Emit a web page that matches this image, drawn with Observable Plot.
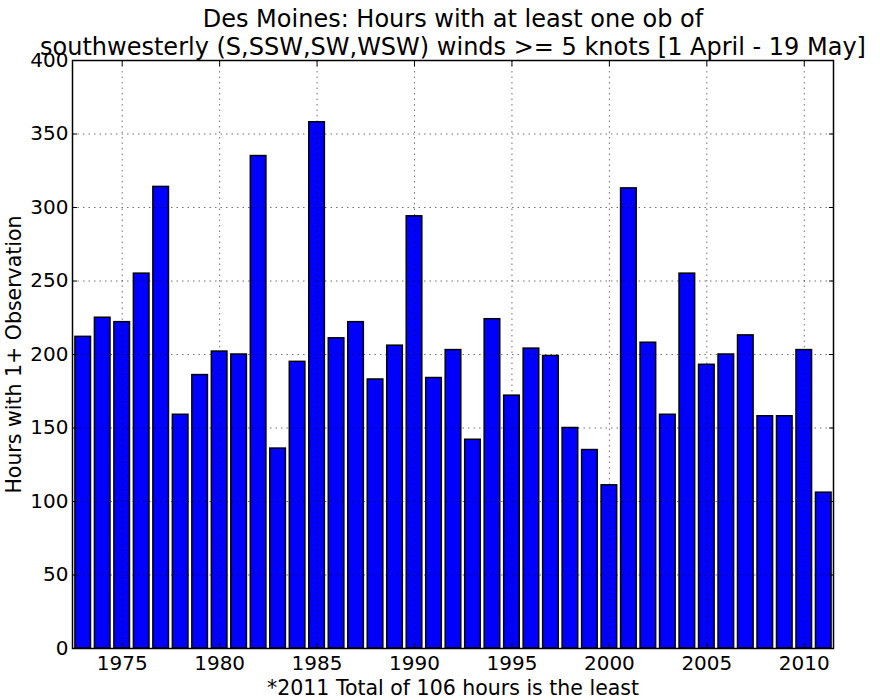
<!DOCTYPE html>
<html>
<head>
<meta charset="utf-8">
<script src="https://cdn.jsdelivr.net/npm/d3@7"></script>
<script src="https://cdn.jsdelivr.net/npm/@observablehq/plot@0.6"></script>
<style>
  html, body { margin: 0; padding: 0; background: #fff; }
  #chart svg { display: block; }
</style>
</head>
<body>
<div id="chart"></div>
<script>
const years = [1973,1974,1975,1976,1977,1978,1979,1980,1981,1982,1983,1984,1985,1986,1987,1988,1989,1990,1991,1992,1993,1994,1995,1996,1997,1998,1999,2000,2001,2002,2003,2004,2005,2006,2007,2008,2009,2010,2011];
const hours = [212,225,222,255,314,159,186,202,200,335,136,195,358,211,222,183,206,294,184,203,142,224,172,204,199,150,135,111,313,208,159,255,193,200,213,158,158,203,106];
const xTicks = [1975,1980,1985,1990,1995,2000,2005,2010];
const yTicks = [0,50,100,150,200,250,300,350,400];
const titleText = "Des Moines: Hours with at least one ob of\nsouthwesterly (S,SSW,SW,WSW) winds >= 5 knots [1 April - 19 May]";
const yLabel = "Hours with 1+ Observation";
const caption = "*2011 Total of 106 hours is the least";

const data = years.map((y, i) => ({year: y, value: hours[i]}));
const barHalf = 0.4;

const chart = Plot.plot({
  width: 880,
  height: 700,
  marginLeft: 72,
  marginRight: 47,
  marginTop: 60,
  marginBottom: 52,
  style: {fontFamily: "DejaVu Sans", fontSize: "20px", color: "#000", background: "#fff"},
  x: {type: "linear", domain: [1972.45, 2011.5]},
  y: {domain: [0, 400]},
  marks: [
    Plot.rectY(data, {x1: d => d.year - barHalf, x2: d => d.year + barHalf, y: "value", fill: "#0000ff", stroke: "#000", strokeWidth: 1.5}),
    Plot.gridX(xTicks, {stroke: "#000", strokeOpacity: 0.55, strokeDasharray: "1.5,4"}),
    Plot.gridY(yTicks.slice(1, -1), {stroke: "#000", strokeOpacity: 0.55, strokeDasharray: "1.5,4"}),
    Plot.axisX(xTicks, {anchor: "bottom", tickSize: 0, tickPadding: 7, tickFormat: d => String(d), fontSize: 20, label: null}),
    Plot.axisX(xTicks, {anchor: "bottom", tickSize: -5, tickFormat: () => "", label: null}),
    Plot.axisX(xTicks, {anchor: "top", tickSize: -5, tickFormat: () => "", label: null}),
    Plot.axisY(yTicks, {anchor: "left", tickSize: 0, tickPadding: 4, fontSize: 20, label: null}),
    Plot.axisY(yTicks, {anchor: "left", tickSize: -5, tickFormat: () => "", label: null}),
    Plot.axisY(yTicks, {anchor: "right", tickSize: -5, tickFormat: () => "", label: null}),
    Plot.frame({stroke: "#000", strokeWidth: 1.5}),
    Plot.text([titleText], {frameAnchor: "top", text: d => d, lineAnchor: "bottom", dy: -6, fontSize: 24, lineHeight: 1.1667, fill: "#000"}),
    Plot.text([yLabel], {frameAnchor: "left", text: d => d, textAnchor: "middle", rotate: -90, dx: -58, fontSize: 20.5, fill: "#000"}),
    Plot.text([caption], {frameAnchor: "bottom", text: d => d, lineAnchor: "bottom", dy: 46, fontSize: 20.5, fill: "#000"})
  ]
});
document.getElementById("chart").appendChild(chart);
</script>
</body>
</html>
